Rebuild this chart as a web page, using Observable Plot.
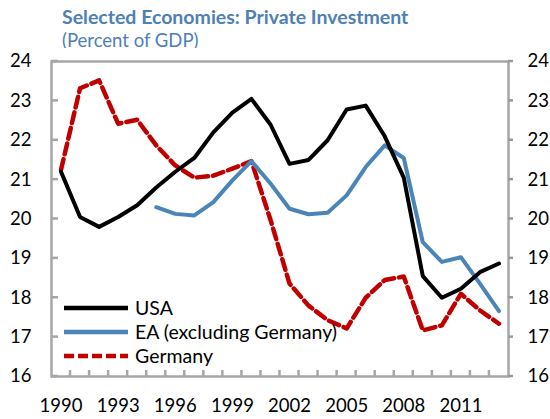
<!DOCTYPE html>
<html>
<head>
<meta charset="utf-8">
<script src="https://cdn.jsdelivr.net/npm/d3@7"></script>
<script src="https://cdn.jsdelivr.net/npm/@observablehq/plot@0.6"></script>
<style>
  html, body { margin: 0; padding: 0; background: #fff; }
  #wrap { position: relative; width: 550px; height: 419px; overflow: hidden; font-family: Lato, "Open Sans", sans-serif; }
  #title { position: absolute; left: 62px; top: 6px; font-size: 19.5px; font-weight: bold; color: #4d80b3; line-height: 22px; white-space: nowrap; }
  #subtitle { position: absolute; left: 62px; top: 29px; font-size: 18.5px; color: #4d80b3; line-height: 22px; white-space: nowrap; }
  #chart { position: absolute; left: 0; top: 48px; }
</style>
</head>
<body>
<div id="wrap">
  <div id="title">Selected Economies: Private Investment</div>
  <div id="subtitle">(Percent of GDP)</div>
  <div id="chart"></div>
</div>
<script>
const years = [1990, 1991, 1992, 1993, 1994, 1995, 1996, 1997, 1998, 1999, 2000, 2001,
               2002, 2003, 2004, 2005, 2006, 2007, 2008, 2009, 2010, 2011, 2012, 2013];
const usa = [21.2, 20.05, 19.8, 20.05, 20.35, 20.8, 21.2, 21.55, 22.2, 22.7, 23.05, 22.4,
             21.4, 21.5, 22.0, 22.78, 22.88, 22.1, 21.05, 18.55, 18.0, 18.23, 18.65, 18.87];
const ea = [null, null, null, null, null, 20.3, 20.13, 20.09, 20.43, 20.98, 21.47, 20.9,
            20.26, 20.12, 20.16, 20.6, 21.32, 21.87, 21.55, 19.41, 18.91, 19.03, 18.36, 17.66];
const germany = [21.25, 23.32, 23.52, 22.42, 22.52, 21.87, 21.36, 21.05, 21.1, 21.28, 21.47, 19.98,
                 18.36, 17.8, 17.43, 17.22, 18.0, 18.45, 18.54, 17.17, 17.3, 18.1, 17.68, 17.34];
const seriesNames = ["USA", "EA (excluding Germany)", "Germany"];
const seriesColors = ["#000000", "#4a85b8", "#c00000"];
const yTicks = [16, 17, 18, 19, 20, 21, 22, 23, 24];
const xLabels = [1990, 1993, 1996, 1999, 2002, 2005, 2008, 2011];

const toRows = (vals) => years.map((y, i) => ({year: y, value: vals[i]})).filter(d => d.value != null);
const usaRows = toRows(usa), eaRows = toRows(ea), deRows = toRows(germany);
const boundaries = years.slice(0, -1).map(y => y + 0.5);

const axisColor = "#a6a6a6";
const font = "Lato, 'Open Sans', sans-serif";

const plot = Plot.plot({
  width: 550,
  height: 371,
  marginTop: 13,
  marginBottom: 43,
  marginLeft: 51,
  marginRight: 42,
  x: {domain: [years[0] - 0.5, years[years.length - 1] + 0.5]},
  y: {domain: [16, 24]},
  style: {fontFamily: font, fontSize: "18.5px", color: "#000", background: "#fff"},
  marks: [
    Plot.frame({stroke: axisColor, strokeWidth: 2.5}),
    Plot.axisY({ticks: yTicks, anchor: "left", tickSize: 0, tickPadding: 20, label: null, fill: "#000", fontSize: 18.5}),
    Plot.axisY({ticks: yTicks, anchor: "right", tickSize: 0, tickPadding: 19, label: null, fill: "#000", fontSize: 18.5}),
    Plot.axisX({ticks: xLabels, anchor: "bottom", tickSize: 0, tickPadding: 22, tickFormat: d => String(d), label: null, fill: "#000", fontSize: 18.5}),
    Plot.line(deRows, {x: "year", y: "value", stroke: seriesColors[2], strokeWidth: 4.5, strokeDasharray: "11,5"}),
    Plot.line(eaRows, {x: "year", y: "value", stroke: seriesColors[1], strokeWidth: 4}),
    Plot.line(usaRows, {x: "year", y: "value", stroke: seriesColors[0], strokeWidth: 4})
  ]
});
document.getElementById("chart").appendChild(plot);

const sx = plot.scale("x"), sy = plot.scale("y");
const svg = d3.select(plot);
const x0 = sx.apply(sx.domain[0]), x1 = sx.apply(sx.domain[1]);
const yb = sy.apply(16);

// tick marks drawn with the plot's own scales
const tg = svg.append("g").attr("stroke-width", 2.5);
yTicks.forEach(t => {
  const y = sy.apply(t);
  tg.append("line").attr("x1", x0).attr("x2", x0 + 7).attr("y1", y).attr("y2", y).attr("stroke", axisColor);
  tg.append("line").attr("x1", x1).attr("x2", x1 + 5).attr("y1", y).attr("y2", y).attr("stroke", "#999");
});
boundaries.forEach(b => {
  const x = sx.apply(b);
  tg.append("line").attr("x1", x).attr("x2", x).attr("y1", yb).attr("y2", yb - 6).attr("stroke", axisColor);
});

// Legend inside plot area (lower left)
const lg = svg.append("g").attr("class", "legend");
seriesNames.forEach((name, i) => {
  const cy = 260 + i * 24;
  lg.append("line")
    .attr("x1", 64).attr("x2", 128).attr("y1", cy).attr("y2", cy)
    .attr("stroke", seriesColors[i]).attr("stroke-width", 4.5)
    .attr("stroke-dasharray", i === 2 ? "10,4" : null);
  lg.append("text")
    .attr("x", 135).attr("y", cy).attr("dy", "0.35em")
    .attr("text-anchor", "start")
    .attr("font-size", 19.5).attr("fill", "#000")
    .attr("font-family", font)
    .text(name);
});
</script>
</body>
</html>
